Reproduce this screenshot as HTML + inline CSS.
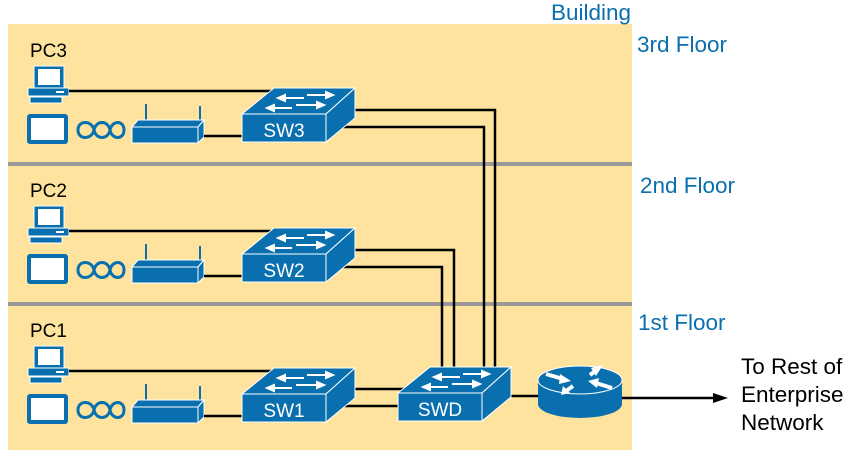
<!DOCTYPE html>
<html><head><meta charset="utf-8"><style>
html,body{margin:0;padding:0;background:#fff;}
svg{display:block;}
text{font-family:"Liberation Sans",Arial,sans-serif;}
</style></head><body>
<svg width="857" height="452" viewBox="0 0 857 452" xmlns="http://www.w3.org/2000/svg">
<defs>
<g id="fl">
  <rect x="34" y="66" width="30" height="23" fill="#0a6fae" stroke="#fff" stroke-width="1"/>
  <rect x="38" y="69" width="22" height="16" fill="#fff"/>
  <polygon points="28,88 69,88 69,96 28,96" fill="#0a6fae" stroke="#fff" stroke-width="1"/>
  <rect x="56" y="91" width="8" height="2" fill="#fff"/>
  <rect x="30" y="97" width="32" height="6" fill="#0a6fae" stroke="#fff" stroke-width="1"/>
  <rect x="27" y="114" width="41" height="30" rx="3" fill="#0a6fae"/>
  <rect x="31" y="118" width="33" height="22" fill="#fff"/>
  <path d="M78,130 C78,120 92,120 94,130 C96,140 108,140 110,130 C112,120 124,120 124,130 C124,140 112,140 110,130 C108,120 96,120 94,130 C92,140 78,140 78,130 Z" fill="none" stroke="#0a6fae" stroke-width="3"/>
  <line x1="146" y1="104" x2="146" y2="121" stroke="#0a6fae" stroke-width="2"/>
  <line x1="200" y1="106" x2="200" y2="121" stroke="#0a6fae" stroke-width="2"/>
  <polygon points="132,127 138,120 204,120 198,127" fill="#0a6fae" stroke="#fff" stroke-width="1"/>
  <rect x="132" y="127" width="66" height="16" fill="#0a6fae" stroke="#fff" stroke-width="1"/>
  <polygon points="198,127 204,120 204,137 198,143" fill="#0a6fae" stroke="#fff" stroke-width="1"/>
  <line x1="69" y1="91" x2="272" y2="91" stroke="#000" stroke-width="2.5"/>
  <line x1="204" y1="136" x2="243" y2="136" stroke="#000" stroke-width="2.5"/>
</g>
<g id="sw">
  <polygon points="0,26 32,0 113,0 84,26" fill="#0a6fae" stroke="#fff" stroke-width="1"/>
  <rect x="0" y="26" width="84" height="28" fill="#0a6fae" stroke="#fff" stroke-width="1"/>
  <polygon points="84,26 113,0 113,30 84,54" fill="#0a6fae" stroke="#fff" stroke-width="1"/>
  <g stroke="#fff" stroke-width="2" fill="#fff">
    <line x1="40" y1="10" x2="62" y2="10"/><polygon points="36,10 43,7 43,13"/>
    <line x1="65" y1="7" x2="85" y2="7"/><polygon points="91,7 84,4 84,10"/>
    <line x1="30" y1="20" x2="50" y2="20"/><polygon points="25,20 32,17 32,23"/>
    <line x1="54" y1="17" x2="76" y2="17"/><polygon points="82,17 75,14 75,20"/>
  </g>
</g>
</defs>
<rect x="8" y="24" width="624" height="426" fill="#fde39d"/>
<rect x="8" y="162" width="624" height="4" fill="#9a9a9a"/>
<rect x="8" y="302" width="624" height="4" fill="#9a9a9a"/>

<use href="#fl"/>
<use href="#fl" transform="translate(0,140)"/>
<use href="#fl" transform="translate(0,280)"/>

<text x="30" y="57" font-size="19">PC3</text>
<text x="30" y="197" font-size="19">PC2</text>
<text x="30" y="337" font-size="19">PC1</text>

<g fill="none" stroke="#000" stroke-width="2.5">
  <polyline points="350,110 495,110 495,370"/>
  <polyline points="340,127 484,127 484,370"/>
  <polyline points="350,250 454,250 454,370"/>
  <polyline points="340,267 442,267 442,370"/>
  <line x1="350" y1="389" x2="405" y2="389"/>
  <line x1="330" y1="406" x2="400" y2="406"/>
  <line x1="505" y1="396" x2="542" y2="396"/>
  <line x1="622" y1="398" x2="715" y2="398"/>
</g>
<polygon points="728,398 713,393 713,403" fill="#000"/>

<g transform="translate(242,88)"><use href="#sw"/><text x="42" y="49" font-size="19" fill="#fff" text-anchor="middle">SW3</text></g>
<g transform="translate(242,228)"><use href="#sw"/><text x="42" y="49" font-size="19" fill="#fff" text-anchor="middle">SW2</text></g>
<g transform="translate(242,368)"><use href="#sw"/><text x="42" y="49" font-size="19" fill="#fff" text-anchor="middle">SW1</text></g>
<g transform="translate(398,367)"><use href="#sw"/><text x="42" y="49" font-size="19" fill="#fff" text-anchor="middle">SWD</text></g>

<path d="M538,380 L538,404 A42,14 0 0 0 622,404 L622,380 Z" fill="#0a6fae"/>
<ellipse cx="580" cy="380" rx="42" ry="14" fill="#0a6fae" stroke="#fff" stroke-width="1"/>
<g fill="#fff" stroke="#fff">
  <line x1="546" y1="374" x2="563" y2="379" stroke-width="4"/><polygon points="571,381 560,374 559,384" stroke="none"/>
  <line x1="590" y1="375" x2="598" y2="369" stroke-width="4"/><polygon points="603,365 591,368 596,376" stroke="none"/>
  <line x1="612" y1="388" x2="596" y2="383" stroke-width="4"/><polygon points="588,381 599,378 597,388" stroke="none"/>
  <line x1="573" y1="386" x2="566" y2="391" stroke-width="4"/><polygon points="561,395 563,386 570,393" stroke="none"/>
</g>

<g fill="#0a6fae" font-size="22.5">
  <text x="551" y="20">Building</text>
  <text x="637" y="52">3rd Floor</text>
  <text x="640" y="193">2nd Floor</text>
  <text x="638" y="330">1st Floor</text>
</g>
<g fill="#000" font-size="22.5">
  <text x="741" y="374">To Rest of</text>
  <text x="741" y="402">Enterprise</text>
  <text x="741" y="430">Network</text>
</g>
</svg>
</body></html>
